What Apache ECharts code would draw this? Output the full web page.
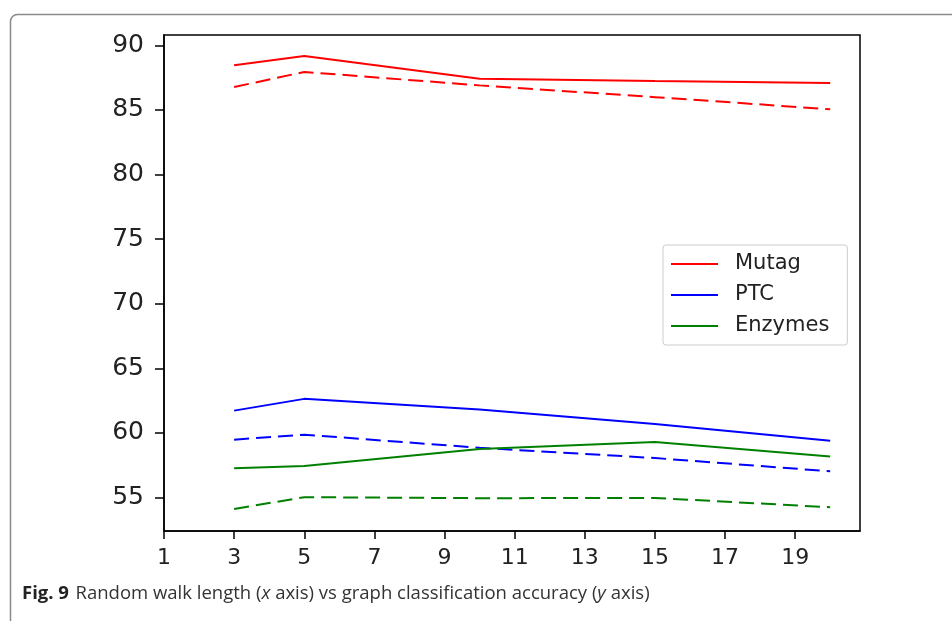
<!DOCTYPE html>
<html>
<head>
<meta charset="utf-8">
<script src="https://cdn.jsdelivr.net/npm/echarts@6/dist/echarts.min.js"></script>
<style>
html,body{margin:0;padding:0;background:#fff;}
#chart{width:952px;height:621px;}
</style>
</head>
<body>
<div id="chart"></div>
<script>
// Random walk lengths (x)
const walkLengths = [3, 5, 10, 15, 20];
// Accuracy values (solid = first line of each dataset, dashed = second)
const mutagSolid   = [88.45, 89.17, 87.42, 87.24, 87.08];
const mutagDashed  = [86.77, 87.94, 86.90, 85.99, 85.05];
const ptcSolid     = [61.72, 62.63, 61.81, 60.68, 59.39];
const ptcDashed    = [59.47, 59.86, 58.84, 58.05, 57.02];
const enzSolid     = [57.26, 57.44, 58.75, 59.29, 58.16];
const enzDashed    = [54.11, 55.02, 54.94, 54.96, 54.24];
// Tick labels
const xTicks = [1, 3, 5, 7, 9, 11, 13, 15, 17, 19];
const yTicks = [55, 60, 65, 70, 75, 80, 85, 90];
const legendNames = ['Mutag', 'PTC', 'Enzymes'];

function pairs(vals) { return walkLengths.map((x, i) => [x, vals[i]]); }

const chart = echarts.init(document.getElementById('chart'), null, {renderer: 'canvas'});

function lineSeries(name, vals, color, dashed) {
  return {
    name: name,
    type: 'line',
    data: pairs(vals),
    symbol: 'none',
    showSymbol: false,
    animation: false,
    lineStyle: {color: color, width: 2, type: dashed ? [15, 7] : 'solid'},
    itemStyle: {color: color},
    emphasis: {disabled: true}
  };
}

chart.setOption({
  backgroundColor: '#fff',
  animation: false,
  grid: {left: 164, right: 92, top: 35, bottom: 90, show: true, borderColor: '#000', borderWidth: 1.5, backgroundColor: 'transparent'},
  xAxis: {
    type: 'value', min: 1, max: 20.85,
    axisLine: {show: true, onZero: false, lineStyle: {color: '#000', width: 1.5}},
    axisTick: {show: true, length: 8, lineStyle: {color: '#000', width: 1.5}, customValues: xTicks},
    axisLabel: {customValues: xTicks, color: '#222', fontFamily: 'DejaVu Sans', fontSize: 22, margin: 16},
    splitLine: {show: false}
  },
  yAxis: {
    type: 'value', min: 52.4, max: 90.8,
    axisLine: {show: true, onZero: false, lineStyle: {color: '#000', width: 1.5}},
    axisTick: {show: true, length: 9, lineStyle: {color: '#000', width: 1.5}, customValues: yTicks},
    axisLabel: {customValues: yTicks, color: '#222', fontFamily: 'DejaVu Sans', fontSize: 25, margin: 20},
    splitLine: {show: false}
  },
  legend: {
    data: legendNames,
    orient: 'vertical',
    left: 663, top: 245,
    padding: [8, 18, 8, 8],
    icon: 'rect',
    itemWidth: 47, itemHeight: 2, itemGap: 9,
    borderColor: '#ccc', borderWidth: 1, borderRadius: 3,
    backgroundColor: '#fff',
    selectedMode: false,
    textStyle: {fontFamily: 'DejaVu Sans', fontSize: 21, color: '#222', lineHeight: 22, padding: [0, 0, 0, 12]}
  },
  series: [
    lineSeries('Mutag', mutagSolid, '#ff0000', false),
    lineSeries('Mutag (dashed)', mutagDashed, '#ff0000', true),
    lineSeries('PTC', ptcSolid, '#0000ff', false),
    lineSeries('PTC (dashed)', ptcDashed, '#0000ff', true),
    lineSeries('Enzymes', enzSolid, '#008000', false),
    lineSeries('Enzymes (dashed)', enzDashed, '#008000', true)
  ],
  graphic: [
    {type: 'rect', left: 8, top: 12, silent: true, z: 100,
     shape: {width: 1000, height: 700, r: 7},
     style: {fill: 'none', stroke: '#8a8a8a', lineWidth: 1.5}},
    {type: 'text', left: 22, top: 584, silent: true, z: 100,
     style: {
       text: '{b|Fig. 9}  {r|Random walk length (}{i|x}{r| axis) vs graph classification accuracy (}{i|y}{r| axis)}',
       rich: {
         b: {fontFamily: 'Open Sans', fontWeight: 'bold', fontSize: 18.5, fill: '#222'},
         r: {fontFamily: 'Open Sans', fontSize: 18.5, fill: '#333'},
         i: {fontFamily: 'Open Sans', fontStyle: 'italic', fontSize: 18.5, fill: '#333'}
       }
     }}
  ]
});
</script>
</body>
</html>
